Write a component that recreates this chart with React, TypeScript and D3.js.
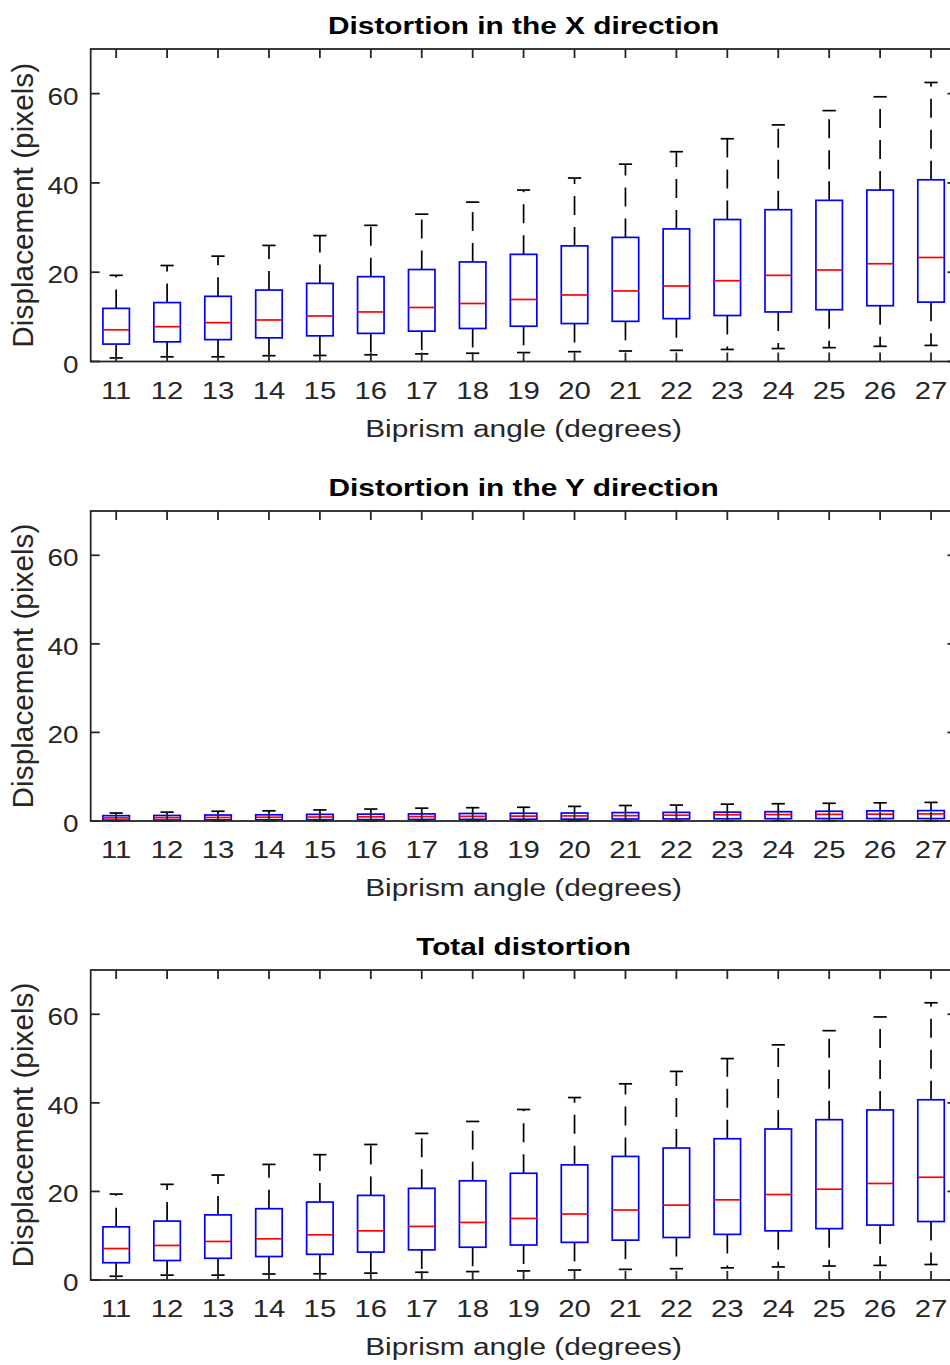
import React from "react";
import * as d3 from "d3";

// biprism angles (degrees)
const angles = [11, 12, 13, 14, 15, 16, 17, 18, 19, 20, 21, 22, 23, 24, 25, 26, 27];
const yTicks = [0, 20, 40, 60];

// distortion in X (pixels)
const upperX = [19.3, 21.5, 23.6, 26.0, 28.2, 30.5, 33.0, 35.7, 38.4, 41.1, 44.2, 47.0, 49.9, 53.0, 56.2, 59.3, 62.5];
const q3X = [11.9, 13.2, 14.6, 16.0, 17.5, 19.0, 20.6, 22.3, 24.0, 25.9, 27.8, 29.7, 31.8, 34.0, 36.1, 38.4, 40.7];
const medX = [7.1, 7.8, 8.7, 9.3, 10.2, 11.1, 12.1, 13.0, 13.9, 14.9, 15.8, 16.9, 18.1, 19.3, 20.5, 21.9, 23.3];
const q1X = [3.9, 4.4, 4.9, 5.3, 5.75, 6.3, 6.8, 7.4, 7.9, 8.5, 9.0, 9.6, 10.3, 11.1, 11.6, 12.5, 13.3];
const lowX = [0.8, 1.05, 1.05, 1.3, 1.35, 1.5, 1.7, 1.85, 2.0, 2.2, 2.35, 2.5, 2.7, 2.9, 3.1, 3.4, 3.6];

// distortion in Y (pixels)
const upperY = [1.8, 2.0, 2.2, 2.3, 2.5, 2.7, 2.9, 3.0, 3.1, 3.3, 3.5, 3.6, 3.8, 3.9, 4.0, 4.1, 4.2];
const q3Y = [1.2, 1.25, 1.35, 1.4, 1.5, 1.55, 1.6, 1.7, 1.75, 1.8, 1.9, 1.95, 2.0, 2.1, 2.2, 2.3, 2.35];
const medY = [0.7, 0.75, 0.8, 0.85, 0.9, 0.95, 1.0, 1.05, 1.1, 1.15, 1.2, 1.3, 1.4, 1.45, 1.5, 1.55, 1.6];
const q1Y = [0.2, 0.22, 0.25, 0.27, 0.3, 0.32, 0.35, 0.37, 0.4, 0.42, 0.45, 0.47, 0.5, 0.52, 0.55, 0.55, 0.55];
const lowY = [0.02, 0.02, 0.02, 0.02, 0.03, 0.03, 0.03, 0.03, 0.03, 0.04, 0.04, 0.04, 0.04, 0.05, 0.05, 0.05, 0.05];

// total distortion (pixels)
const upperT = [19.4, 21.6, 23.7, 26.1, 28.3, 30.6, 33.1, 35.8, 38.5, 41.2, 44.3, 47.1, 50.0, 53.1, 56.3, 59.4, 62.6];
const q3T = [12.0, 13.3, 14.7, 16.1, 17.6, 19.1, 20.7, 22.4, 24.1, 26.0, 27.9, 29.8, 31.9, 34.1, 36.2, 38.4, 40.7];
const medT = [7.1, 7.8, 8.7, 9.3, 10.2, 11.1, 12.1, 13.0, 13.9, 14.9, 15.8, 16.9, 18.1, 19.3, 20.5, 21.8, 23.2];
const q1T = [3.9, 4.4, 4.9, 5.3, 5.8, 6.3, 6.8, 7.4, 7.9, 8.5, 9.0, 9.6, 10.3, 11.1, 11.6, 12.4, 13.2];
const lowT = [0.85, 1.1, 1.1, 1.35, 1.4, 1.55, 1.75, 1.9, 2.05, 2.25, 2.4, 2.55, 2.75, 2.95, 3.15, 3.3, 3.5];

const FONT = "'Liberation Sans', Arial, Helvetica, sans-serif";
const AX = "#262626";
const SX = 1.26; // horizontal text stretch seen in the reference

const left = 90.7;
const right = 956.5;

type PanelProps = {
  top: number;
  bottom: number;
  title: string;
  upper: number[];
  q3: number[];
  med: number[];
  q1: number[];
  low: number[];
};

const Panel = ({ top, bottom, title, upper, q3, med, q1, low }: PanelProps) => {
  const x = d3.scaleLinear().domain([10.5, 27.5]).range([left, right]);
  const y = d3.scaleLinear().domain([0, 70]).range([bottom, top]);
  const boxW = x(0.52) - x(0);
  const capW = x(0.26) - x(0);
  const tick = 9;

  return (
    <g>
      <text
        transform={`translate(${(left + right) / 2},${top - 15}) scale(${SX},1)`}
        textAnchor="middle"
        fontFamily={FONT}
        fontWeight="bold"
        fontSize={23.7}
        fill="#000"
      >
        {title}
      </text>

      {/* boxes */}
      {angles.map((a, i) => {
        const cx = x(a);
        return (
          <g key={a}>
            <line x1={cx} x2={cx} y1={y(q3[i])} y2={y(upper[i])} stroke="#000" strokeWidth={1.7} strokeDasharray="19,12" />
            <line x1={cx} x2={cx} y1={y(q1[i])} y2={y(low[i])} stroke="#000" strokeWidth={1.7} strokeDasharray="19,12" />
            <line x1={cx - capW / 2} x2={cx + capW / 2} y1={y(upper[i])} y2={y(upper[i])} stroke="#000" strokeWidth={1.7} />
            <line x1={cx - capW / 2} x2={cx + capW / 2} y1={y(low[i])} y2={y(low[i])} stroke="#000" strokeWidth={1.7} />
            <rect
              x={cx - boxW / 2}
              y={y(q3[i])}
              width={boxW}
              height={y(q1[i]) - y(q3[i])}
              fill="none"
              stroke="#0000ff"
              strokeWidth={1.7}
            />
            <line x1={cx - boxW / 2} x2={cx + boxW / 2} y1={y(med[i])} y2={y(med[i])} stroke="#ff0000" strokeWidth={1.7} />
          </g>
        );
      })}

      {/* axes box */}
      <rect x={left} y={top} width={right - left} height={bottom - top} fill="none" stroke={AX} strokeWidth={1.8} />
      {angles.map((a) => (
        <g key={"xt" + a}>
          <line x1={x(a)} x2={x(a)} y1={bottom} y2={bottom - tick} stroke={AX} strokeWidth={1.8} />
          <line x1={x(a)} x2={x(a)} y1={top} y2={top + tick} stroke={AX} strokeWidth={1.8} />
          <text
            transform={`translate(${x(a)},${bottom + 37}) scale(${SX},1)`}
            textAnchor="middle"
            fontFamily={FONT}
            fontSize={23.3}
            fill={AX}
          >
            {a}
          </text>
        </g>
      ))}
      {yTicks.map((t) => (
        <g key={"yt" + t}>
          <line x1={left} x2={left + tick} y1={y(t)} y2={y(t)} stroke={AX} strokeWidth={1.8} />
          <line x1={right} x2={right - tick} y1={y(t)} y2={y(t)} stroke={AX} strokeWidth={1.8} />
          <text
            transform={`translate(78.5,${y(t) + 11}) scale(${SX - 0.06},1)`}
            textAnchor="end"
            fontFamily={FONT}
            fontSize={23.3}
            fill={AX}
          >
            {t}
          </text>
        </g>
      ))}

      <text
        transform={`translate(${(left + right) / 2},${bottom + 75}) scale(${SX},1)`}
        textAnchor="middle"
        fontFamily={FONT}
        fontSize={23.7}
        fill={AX}
      >
        Biprism angle (degrees)
      </text>
      <text
        transform={`translate(33,${(top + bottom) / 2}) rotate(-90)`}
        textAnchor="middle"
        fontFamily={FONT}
        fontSize={29.8}
        fill={AX}
      >
        Displacement (pixels)
      </text>
    </g>
  );
};

export default function App() {
  return (
    <svg
      width={950}
      height={1365}
      style={{ position: "absolute", left: 0, top: 0, background: "#fff" }}
    >
      <rect width={950} height={1365} fill="#fff" />
      <Panel top={49} bottom={361.5} title="Distortion in the X direction" upper={upperX} q3={q3X} med={medX} q1={q1X} low={lowX} />
      <Panel top={511} bottom={821} title="Distortion in the Y direction" upper={upperY} q3={q3Y} med={medY} q1={q1Y} low={lowY} />
      <Panel top={970} bottom={1280} title="Total distortion" upper={upperT} q3={q3T} med={medT} q1={q1T} low={lowT} />
    </svg>
  );
}
